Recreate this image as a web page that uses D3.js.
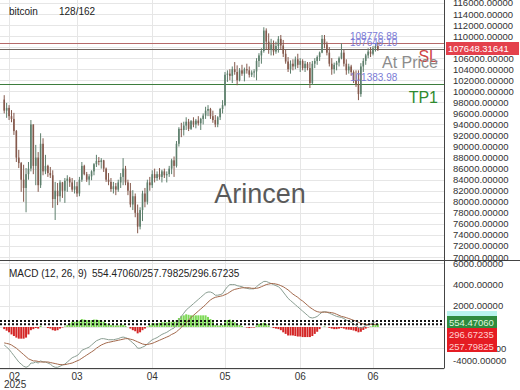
<!DOCTYPE html>
<html>
<head>
<meta charset="utf-8">
<script src="https://cdn.jsdelivr.net/npm/d3@7/dist/d3.min.js"></script>
<style>
  body { margin: 0; background: #fff; }
  svg { display: block; font-family: "Liberation Sans", Arial, sans-serif; }
</style>
</head>
<body>
<script>
// daily candles, prices in thousands USD
var firstDay = "2025-01-30";
var opens = [98.5,96.5,97.0,95.5,95.0,92.8,88.0,87.0,84.0,82.5,
  85.0,86.0,94.0,86.5,88.0,83.0,90.5,85.5,86.5,85.2,
  84.8,80.5,82.0,81.0,83.5,82.0,83.8,84.2,83.5,82.2,
  82.8,81.5,84.0,86.5,85.0,84.0,84.6,85.5,86.8,87.4,
  87.2,87.5,86.0,84.0,83.6,82.3,82.8,82.2,83.5,84.5,
  86.0,83.5,82.0,79.5,81.0,78.0,75.5,78.5,81.5,80.0,
  83.5,83.0,85.0,84.3,85.0,84.5,85.5,84.8,85.0,86.0,
  87.5,86.5,90.5,93.2,93.0,93.8,94.5,93.2,94.6,94.0,
  94.7,94.2,95.0,95.6,96.5,96.8,95.5,94.8,94.0,95.3,
  96.8,97.5,103.0,103.2,102.8,104.0,103.5,102.0,103.8,103.2,
  104.0,103.8,103.0,103.4,103.6,105.5,106.5,107.3,111.0,109.0,
  107.5,108.5,107.2,108.2,109.5,108.3,106.8,105.4,104.0,105.0,
  104.5,105.8,104.8,105.5,104.2,105.0,104.2,101.5,105.0,105.5,
  106.2,107.0,109.5,108.5,107.0,105.0,104.0,104.8,105.2,106.0,
  107.0,105.0,103.8,104.5,103.5,102.0,101.2,99.5,104.5,105.5,
  106.5,107.2,106.8,107.8,108.2];
var highs = [99.3,97.9,97.5,96.6,96.1,93.0,89.4,87.2,86.7,86.1,
  87.2,94.8,94.0,90.3,89.0,92.4,91.5,88.5,86.7,86.3,
  85.7,83.6,83.4,83.9,83.6,84.3,84.8,84.5,84.3,83.9,
  83.6,84.5,87.2,86.7,85.4,85.0,85.7,87.0,88.5,88.1,
  87.9,87.6,86.2,85.2,84.3,83.6,83.4,84.0,85.2,87.9,
  86.5,84.0,83.4,82.1,81.5,79.5,79.0,82.0,82.5,84.0,
  84.5,85.7,86.0,85.5,86.1,85.8,86.0,85.5,86.5,87.8,
  88.2,91.0,93.5,94.3,94.5,95.3,95.0,94.8,95.3,95.0,
  95.5,95.2,96.0,97.2,97.5,97.0,96.5,95.7,95.5,97.0,
  98.4,103.5,103.8,104.0,104.5,105.3,104.7,104.2,104.8,104.3,
  105.0,104.5,103.8,104.0,106.0,106.9,107.8,111.6,111.4,110.5,
  109.5,109.2,109.0,110.0,110.2,109.3,107.5,106.2,105.6,105.8,
  106.3,106.8,106.0,105.8,105.5,105.3,105.3,105.5,106.0,106.5,
  107.2,110.2,110.2,109.0,108.0,106.0,105.2,105.5,106.3,108.7,
  107.5,105.8,105.0,104.8,103.8,103.8,103.8,105.1,106.0,106.8,
  107.8,108.0,108.2,108.7,108.9];
var lows = [96.0,95.2,94.8,94.4,92.1,87.2,86.1,81.8,80.0,78.1,
  84.0,85.5,85.0,83.0,81.8,82.5,84.8,85.0,84.5,84.3,
  78.9,76.7,79.4,80.0,80.7,79.8,81.8,82.7,81.8,81.5,
  80.9,81.0,83.6,84.8,83.6,83.0,83.9,84.8,86.3,86.6,
  86.0,85.4,83.6,83.0,81.8,81.5,81.2,81.8,82.5,83.0,
  83.0,81.2,79.0,78.5,77.2,74.3,75.0,76.5,79.0,79.5,
  82.0,82.5,83.5,83.8,84.0,83.5,84.3,83.5,84.5,85.0,
  84.5,86.2,90.0,91.7,92.0,93.0,92.8,93.0,93.5,93.3,
  93.8,93.0,94.0,95.0,95.5,95.0,94.3,93.5,93.5,94.8,
  96.0,97.3,101.7,102.0,101.5,103.0,101.1,101.8,102.8,101.8,
  103.2,102.5,102.6,102.5,102.0,104.4,105.0,107.0,107.5,106.8,
  106.5,106.5,106.8,107.0,107.5,106.2,105.0,103.5,103.2,103.8,
  104.0,104.2,103.5,103.8,103.5,103.8,100.6,101.2,104.2,104.8,
  105.5,106.9,107.8,106.5,104.5,103.0,103.2,103.8,104.5,105.8,
  104.5,103.0,103.2,102.8,101.5,100.8,98.4,99.0,103.5,104.8,
  106.0,106.2,106.5,107.2,107.3];
var closes = [96.5,97.0,95.5,95.0,92.8,88.0,87.0,84.0,82.5,85.0,
  86.0,94.0,86.5,88.0,83.0,90.5,85.5,86.5,85.2,84.8,
  80.5,82.0,81.0,83.5,82.0,83.8,84.2,83.5,82.2,82.8,
  81.5,84.0,86.5,85.0,84.0,84.6,85.5,86.8,87.4,87.2,
  87.5,86.0,84.0,83.6,82.3,82.8,82.2,83.5,84.5,86.0,
  83.5,82.0,79.5,81.0,78.0,75.5,78.5,81.5,80.0,83.5,
  83.0,85.0,84.3,85.0,84.5,85.5,84.8,85.0,86.0,87.5,
  86.5,90.5,93.2,93.0,93.8,94.5,93.2,94.6,94.0,94.7,
  94.2,95.0,95.6,96.5,96.8,95.5,94.8,94.0,95.3,96.8,
  97.5,103.0,103.2,102.8,104.0,103.5,102.0,103.8,103.2,104.0,
  103.8,103.0,103.4,103.6,105.5,106.5,107.3,111.0,109.0,107.5,
  108.5,107.2,108.2,109.5,108.3,106.8,105.4,104.0,105.0,104.5,
  105.8,104.8,105.5,104.2,105.0,104.2,101.5,105.0,105.5,106.2,
  107.0,109.5,108.5,107.0,105.0,104.0,104.8,105.2,106.0,107.0,
  105.0,103.8,104.5,103.5,102.0,101.2,99.5,104.5,105.5,106.5,
  107.2,106.8,107.8,108.2,107.65];

// MACD (12, 26, 9), thousands
var macdLine = [-1.7,-1.9,-2.1,-2.4,-2.7,-3.0,-3.3,-3.5,-3.7,-3.8,
  -3.7,-3.4,-3.4,-3.3,-3.4,-3.2,-3.3,-3.3,-3.4,-3.5,
  -3.7,-3.8,-3.8,-3.7,-3.6,-3.5,-3.3,-3.1,-2.9,-2.8,
  -2.7,-2.5,-2.2,-2.1,-2.0,-1.9,-1.7,-1.5,-1.3,-1.2,
  -1.1,-1.1,-1.15,-1.2,-1.2,-1.2,-1.15,-1.1,-1.0,-0.95,
  -1.0,-1.1,-1.3,-1.5,-1.7,-2.0,-2.0,-1.9,-1.8,-1.6,
  -1.4,-1.2,-1.1,-1.0,-0.85,-0.7,-0.6,-0.5,-0.35,-0.2,
  -0.1,0.2,0.6,1.0,1.3,1.6,1.8,2.0,2.2,2.4,
  2.6,2.8,3.0,3.2,3.3,3.3,3.2,3.0,3.0,3.05,
  3.15,3.5,3.8,4.0,4.0,4.0,3.9,3.85,3.8,3.7,
  3.65,3.6,3.6,3.6,3.8,4.0,4.15,4.3,4.3,4.2,
  4.1,4.0,3.9,3.8,3.6,3.3,3.0,2.7,2.5,2.3,
  2.1,1.9,1.7,1.5,1.3,1.1,0.9,0.85,0.9,1.0,
  1.2,1.4,1.45,1.4,1.3,1.2,1.1,1.0,0.95,0.9,
  0.8,0.65,0.55,0.45,0.3,0.15,-0.05,-0.1,0.0,0.1,
  0.2,0.3,0.4,0.5,0.55447];
var signalLine = [-1.5,-1.55,-1.6,-1.7,-1.85,-2.0,-2.2,-2.4,-2.6,-2.8,
  -3.0,-3.1,-3.2,-3.2,-3.25,-3.3,-3.3,-3.3,-3.3,-3.35,
  -3.4,-3.45,-3.5,-3.55,-3.55,-3.55,-3.5,-3.45,-3.4,-3.3,
  -3.2,-3.1,-2.95,-2.8,-2.65,-2.5,-2.35,-2.2,-2.0,-1.85,
  -1.7,-1.6,-1.5,-1.45,-1.4,-1.35,-1.3,-1.25,-1.2,-1.15,
  -1.1,-1.1,-1.15,-1.2,-1.3,-1.4,-1.5,-1.6,-1.65,-1.65,
  -1.6,-1.55,-1.45,-1.35,-1.25,-1.15,-1.05,-0.95,-0.85,-0.7,
  -0.6,-0.45,-0.25,-0.05,0.2,0.4,0.65,0.9,1.1,1.3,
  1.5,1.7,1.9,2.1,2.35,2.55,2.7,2.8,2.85,2.9,
  2.95,3.05,3.15,3.3,3.45,3.55,3.6,3.65,3.7,3.7,
  3.7,3.7,3.65,3.65,3.65,3.7,3.8,3.9,4.0,4.05,
  4.1,4.1,4.05,4.0,3.9,3.8,3.65,3.5,3.3,3.1,
  2.95,2.8,2.6,2.45,2.25,2.05,1.85,1.7,1.55,1.45,
  1.4,1.4,1.4,1.4,1.38,1.35,1.3,1.2,1.1,1.0,
  0.95,0.88,0.8,0.72,0.63,0.55,0.45,0.35,0.28,0.25,
  0.24,0.24,0.245,0.25,0.25780];

var levelValues = [108776.88, 107649.10, 101383.98];
var levelNames = ["SL", "At Price", "TP1"];
var lastPrice = "107648.31641";
var macdLegend = ["554.47060", "296.67235", "257.79825"];
var monthTicks = ["2025-02-01", "2025-03-01", "2025-04-01", "2025-05-01", "2025-06-01", "2025-07-01"];
var monthLabels = ["02", "03", "04", "05", "06", "06"];

// ---------- layout ----------
var W = 520, H = 390;
var plotR = 444;
var priceTop = 0, priceBottom = 260;
var macdTop = 260, macdBottom = 368;

var parse = d3.utcParse("%Y-%m-%d");
var day0 = parse(firstDay);
var candles = closes.map(function (c, i) {
    return { date: d3.utcDay.offset(day0, i), o: opens[i], h: highs[i], l: lows[i], c: c,
             m: macdLine[i], s: signalLine[i], hist: macdLine[i] - signalLine[i] };
});

var x = d3.scaleUtc()
    .domain([parse("2025-03-01"), parse("2025-07-01")])
    .range([77, 373]);

var y = d3.scaleLinear()
    .domain([70, 114])
    .range([257, 14]);

var yM = d3.scaleLinear()
    .domain([0, 6])
    .range([327, 263.4]);

var svg = d3.select("body").append("svg")
    .attr("width", W)
    .attr("height", H);

svg.append("rect").attr("width", W).attr("height", H).attr("fill", "#fff");

var defs = svg.append("defs");
defs.append("clipPath").attr("id", "clipPrice")
    .append("rect").attr("x", 0).attr("y", priceTop).attr("width", plotR).attr("height", priceBottom - priceTop);
defs.append("clipPath").attr("id", "clipMacd")
    .append("rect").attr("x", 0).attr("y", macdTop).attr("width", plotR).attr("height", macdBottom - macdTop);

// grid
var priceTicks = d3.range(70, 116.1, 2);
var gridG = svg.append("g").attr("stroke", "#e6e6e6").attr("stroke-width", 1);
gridG.selectAll(".hp").data(priceTicks).enter().append("line")
    .attr("x1", 0).attr("x2", plotR)
    .attr("y1", function (d) { return Math.round(y(d)) + 0.5; })
    .attr("y2", function (d) { return Math.round(y(d)) + 0.5; });
var macdTicks = [-4, -2, 0, 2, 4, 6];
gridG.selectAll(".hm").data(macdTicks).enter().append("line")
    .attr("x1", 0).attr("x2", plotR)
    .attr("y1", function (d) { return Math.round(yM(d)) + 0.5; })
    .attr("y2", function (d) { return Math.round(yM(d)) + 0.5; });
gridG.selectAll(".v").data(monthTicks).enter().append("line")
    .attr("x1", function (d) { return Math.round(x(parse(d))) + 0.5; })
    .attr("x2", function (d) { return Math.round(x(parse(d))) + 0.5; })
    .attr("y1", 0).attr("y2", macdBottom);

// watermark
svg.append("text")
    .attr("x", 260).attr("y", 203)
    .attr("text-anchor", "middle")
    .attr("font-size", "27px")
    .attr("fill", "#5a5a5a")
    .text("Arincen");

// level lines
var levelColors = ["#b56a6a", "#6e6660", "#3d7d3d"];
var levelTextColors = ["#d04646", "#8c8c8c", "#2f8a2f"];
var lv = svg.append("g");
levelValues.forEach(function (v, i) {
    var ly = Math.round(y(v / 1000)) + 0.5;
    lv.append("line").attr("x1", 0).attr("x2", plotR).attr("y1", ly).attr("y2", ly)
        .attr("stroke", levelColors[i]).attr("stroke-width", 1.2);
});

// candles
var cw = 1.6;
var cg = svg.append("g").attr("clip-path", "url(#clipPrice)");
cg.selectAll("line").data(candles).enter().append("line")
    .attr("x1", function (d) { return x(d.date); })
    .attr("x2", function (d) { return x(d.date); })
    .attr("y1", function (d) { return y(d.h); })
    .attr("y2", function (d) { return y(d.l); })
    .attr("stroke", function (d) { return d.c >= d.o ? "#5d7f6c" : "#85594c"; })
    .attr("stroke-width", 1);
cg.selectAll("rect").data(candles).enter().append("rect")
    .attr("x", function (d) { return x(d.date) - cw / 2; })
    .attr("width", cw)
    .attr("y", function (d) { return y(Math.max(d.o, d.c)); })
    .attr("height", function (d) { return Math.max(0.8, Math.abs(y(d.o) - y(d.c))); })
    .attr("fill", function (d) { return d.c >= d.o ? "#5d7f6c" : "#85594c"; });

// level value labels + names
levelValues.forEach(function (v, i) {
    var ly = y(v / 1000);
    svg.append("text").attr("x", 350).attr("y", ly - 3)
        .attr("font-size", "10px").attr("fill", "#7b7bd6")
        .text(v.toFixed(2));
    svg.append("text").attr("x", 438).attr("y", ly + 19)
        .attr("text-anchor", "end").attr("font-size", "16px")
        .attr("fill", levelTextColors[i])
        .text(levelNames[i]);
});

// header
svg.append("text").attr("x", 9).attr("y", 15).attr("font-size", "10px").attr("fill", "#222").text("bitcoin");
svg.append("text").attr("x", 59).attr("y", 15).attr("font-size", "10px").attr("fill", "#222").text("128/162");

// ---------- MACD panel ----------
var mg = svg.append("g").attr("clip-path", "url(#clipMacd)");
mg.selectAll("rect").data(candles).enter().append("rect")
    .attr("x", function (d) { return x(d.date) - 1; })
    .attr("width", 2)
    .attr("y", function (d) { return d.hist >= 0 ? yM(d.hist) : yM(0); })
    .attr("height", function (d) { return Math.abs(yM(d.hist) - yM(0)); })
    .attr("fill", function (d) { return d.hist >= 0 ? "#7ed957" : "#d42626"; });

mg.append("path").datum(candles)
    .attr("fill", "none").attr("stroke", "#8a9e92").attr("stroke-width", 1)
    .attr("d", d3.line().x(function (d) { return x(d.date); }).y(function (d) { return yM(d.m); }));
mg.append("path").datum(candles)
    .attr("fill", "none").attr("stroke", "#a3694c").attr("stroke-width", 1)
    .attr("d", d3.line().x(function (d) { return x(d.date); }).y(function (d) { return yM(d.s); }));

// dotted last-value lines
[macdLine[macdLine.length - 1], signalLine[signalLine.length - 1]].forEach(function (v) {
    mg.append("line").attr("x1", 0).attr("x2", plotR)
        .attr("y1", yM(v)).attr("y2", yM(v))
        .attr("stroke", "#111").attr("stroke-width", 2).attr("stroke-dasharray", "2,2");
});

svg.append("text").attr("x", 9).attr("y", 277).attr("font-size", "10px").attr("fill", "#222")
    .text("MACD (12, 26, 9)");
svg.append("text").attr("x", 92).attr("y", 277).attr("font-size", "10px").attr("fill", "#222")
    .text(macdLegend[0] + "/" + macdLegend[2] + "/" + macdLegend[1]);

// panel frames
var fr = svg.append("g").attr("stroke", "#444").attr("stroke-width", 1);
fr.append("line").attr("x1", 0).attr("x2", W).attr("y1", 260.5).attr("y2", 260.5);
fr.append("line").attr("x1", plotR + 0.5).attr("x2", plotR + 0.5).attr("y1", 0).attr("y2", macdBottom);
fr.append("line").attr("x1", 0).attr("x2", plotR + 0.5).attr("y1", macdBottom + 0.5).attr("y2", macdBottom + 0.5);

// right axes
var ax = svg.append("g").attr("font-size", "9.5px").attr("fill", "#333");
ax.selectAll(".pt").data(priceTicks).enter().append("text")
    .attr("x", 453).attr("y", function (d) { return y(d) + 3.5; })
    .text(function (d) { return (d * 1000).toFixed(5); });
ax.selectAll(".mt").data(macdTicks).enter().append("text")
    .attr("x", 453).attr("y", function (d) { return Math.min(yM(d), 360) + 3.5; })
    .text(function (d) { return (d * 1000).toFixed(5); });

// current price tag
svg.append("rect").attr("x", 446).attr("y", 42).attr("width", 73).attr("height", 13).attr("fill", "#e4414c");
svg.append("text").attr("x", 448).attr("y", 52).attr("font-size", "9.5px").attr("fill", "#fff").text(lastPrice);

// MACD value tags
svg.append("rect").attr("x", 447).attr("y", 311).attr("width", 50).attr("height", 6).attr("fill", "#b8f4ee");
var tagY = [316, 328, 340];
var tagFill = ["#2e8b3e", "#e51c23", "#e51c23"];
var tagText = ["#dff5df", "#ffd0d0", "#ffd0d0"];
var tagVals = [macdLegend[0], macdLegend[1], macdLegend[2]];
tagVals.forEach(function (t, i) {
    svg.append("rect").attr("x", 447).attr("y", tagY[i]).attr("width", 50).attr("height", 12).attr("fill", tagFill[i]);
    svg.append("text").attr("x", 449).attr("y", tagY[i] + 9.5).attr("font-size", "9.5px").attr("fill", tagText[i]).text(t);
});

// bottom axis
var bx = svg.append("g").attr("font-size", "10px").attr("fill", "#333");
monthTicks.forEach(function (d, i) {
    var tx = x(parse(d));
    bx.append("text").attr("x", i === 0 ? tx : tx)
        .attr("y", 380).attr("text-anchor", i === 0 ? "start" : "middle")
        .text(monthLabels[i]);
});
bx.append("text").attr("x", 4).attr("y", 388).text("2025");
</script>
</body>
</html>
